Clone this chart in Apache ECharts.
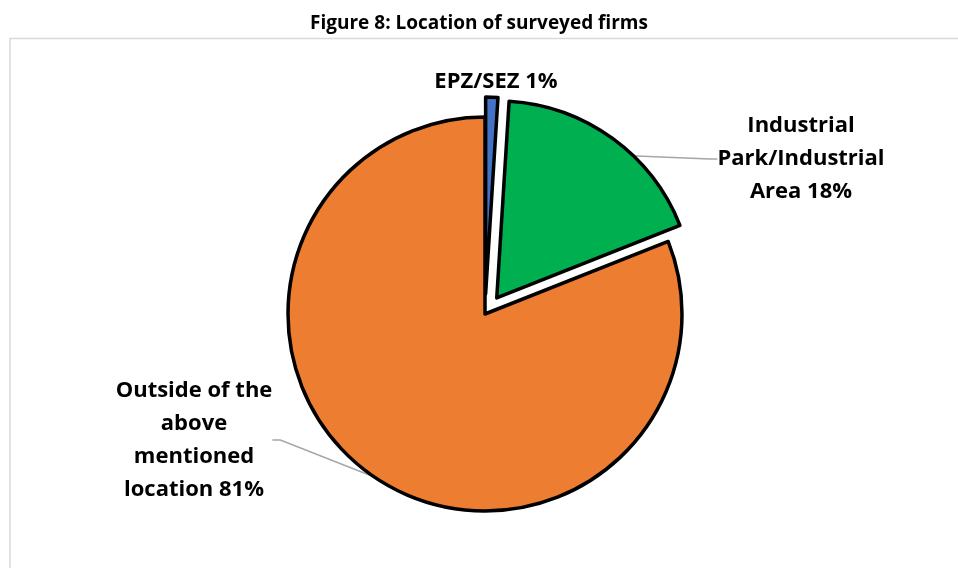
<!DOCTYPE html>
<html>
<head>
<meta charset="utf-8">
<script src="https://cdn.jsdelivr.net/npm/echarts@6/dist/echarts.min.js"></script>
<style>
html,body{margin:0;padding:0;background:#fff;}
#chart{width:958px;height:568px;}
</style>
</head>
<body>
<div id="chart"></div>
<script>
// Firm location shares (percent)
const categories = ['EPZ/SEZ', 'Industrial\nPark/Industrial\nArea', 'Outside of the\nabove\nmentioned\nlocation'];
const values = [1, 18, 81];
const colors = ['#4472C4', '#00B050', '#ED7D31'];
const exploded = [true, true, false];

// Where each label's centre sits (x, y in px)
const labelSpots = [
  { x: 496, y: 82 },
  { x: 801, y: 159 },
  { x: 194, y: 440 }
];

const chart = echarts.init(document.getElementById('chart'));
const font = '"Open Sans", "Noto Sans", sans-serif';
const pieCenter = [485, 314];
const pieRadius = 197;

chart.setOption({
  animation: false,
  backgroundColor: '#ffffff',
  title: {
    text: 'Figure 8: Location of surveyed firms',
    left: 'center',
    top: 9,
    textStyle: { fontFamily: font, fontSize: 19, fontWeight: 'bold', color: '#000' }
  },
  graphic: [{
    type: 'polyline',
    shape: { points: [[10, 568], [10, 38.5], [958, 38.5]] },
    style: { stroke: '#d9d9d9', lineWidth: 1.5, fill: null },
    silent: true
  }],
  series: [
    // Slices, with the small shares pulled out
    {
      type: 'pie',
      center: pieCenter,
      radius: pieRadius,
      startAngle: 90,
      clockwise: true,
      selectedMode: 'multiple',
      selectedOffset: 20,
      silent: true,
      emphasis: { disabled: true },
      itemStyle: { borderColor: '#000', borderWidth: 3.5 },
      label: { show: false },
      labelLine: { show: false },
      data: values.map((v, i) => ({
        name: categories[i],
        value: v,
        selected: exploded[i],
        itemStyle: { color: colors[i] }
      }))
    },
    // Category labels with leader lines
    {
      type: 'pie',
      center: pieCenter,
      radius: pieRadius,
      startAngle: 90,
      clockwise: true,
      silent: true,
      avoidLabelOverlap: false,
      emphasis: { disabled: true },
      itemStyle: { color: 'rgba(0,0,0,0)', borderWidth: 0 },
      label: {
        show: true,
        formatter: p => p.name + ' ' + p.value + '%',
        fontFamily: font,
        fontSize: 22,
        fontWeight: 'bold',
        color: '#000',
        lineHeight: 33
      },
      labelLine: {
        show: true,
        length: 10,
        length2: 8,
        lineStyle: { color: '#a6a6a6', width: 1.5 }
      },
      labelLayout: p => {
        const s = labelSpots[p.dataIndex];
        return { x: s.x, y: s.y, align: 'center', verticalAlign: 'middle' };
      },
      data: values.map((v, i) => ({
        name: categories[i],
        value: v,
        labelLine: { show: i !== 0 }
      }))
    }
  ]
});
</script>
</body>
</html>
